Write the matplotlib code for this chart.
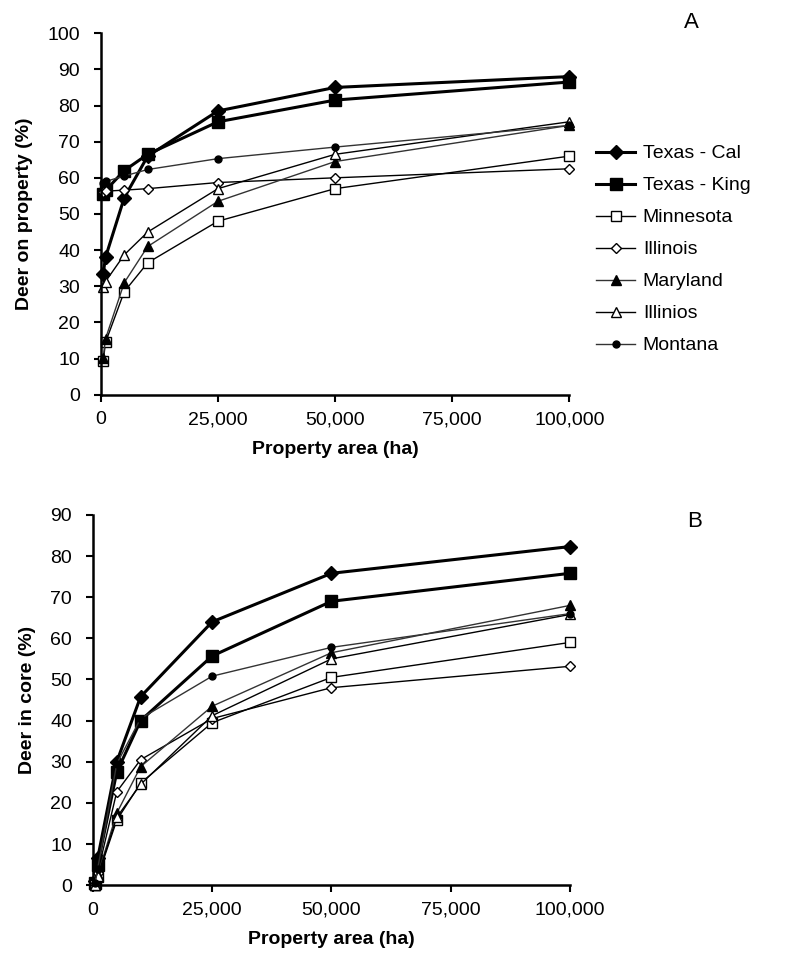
import matplotlib
matplotlib.use('Agg')
import matplotlib.pyplot as plt
from matplotlib.ticker import FuncFormatter

plt.rcParams['font.family'] = ['Liberation Sans', 'DejaVu Sans']

# Property area (ha)
area = [500, 1000, 5000, 10000, 25000, 50000, 100000]

# Panel A: deer on property (%)
a_tx_cal = [33.5, 38, 54.5, 66, 78.5, 85, 88]
a_tx_king = [55.5, 56.5, 62, 66.5, 75.5, 81.5, 86.5]
a_minnesota = [9.2, 14.5, 28.5, 36.5, 48, 57, 66]
a_illinois = [56, 56.3, 56.6, 57, 58.7, 60, 62.5]
a_maryland = [10.2, 15.5, 31, 41, 53.5, 64.5, 74.5]
a_illinios = [29.8, 31.3, 38.7, 45, 57, 66.5, 75.5]
a_montana = [58.5, 59, 60.5, 62.3, 65.3, 68.5, 74.5]

# Panel B: deer in core (%)
b_tx_cal = [1, 6.5, 30, 45.8, 64, 75.8, 82.3]
b_tx_king = [0.5, 5, 27.5, 40, 55.7, 69, 75.8]
b_minnesota = [0, 2, 15.8, 24.8, 39.5, 50.5, 59]
b_illinois = [0.3, 3, 22.7, 30.5, 40.5, 48, 53.2]
b_maryland = [0, 2.5, 17.5, 28.8, 43.5, 56.5, 68]
b_illinios = [0, 2.2, 16.5, 24.5, 41.2, 55, 65.8]
b_montana = [0.5, 4, 29.5, 40.5, 50.8, 57.8, 66]

labels = ['Texas - Cal', 'Texas - King', 'Minnesota', 'Illinois',
          'Maryland', 'Illinios', 'Montana']
styles = [
    dict(marker='D', ms=7, mfc='black', mec='black', lw=2.2, color='black'),
    dict(marker='s', ms=8.5, mfc='black', mec='black', lw=2.2, color='black'),
    dict(marker='s', ms=6.5, mfc='white', mec='black', lw=1, color='black'),
    dict(marker='D', ms=5.5, mfc='white', mec='black', lw=1, color='black'),
    dict(marker='^', ms=7, mfc='black', mec='black', lw=1, color='#333333'),
    dict(marker='^', ms=7.5, mfc='white', mec='black', lw=1, color='black'),
    dict(marker='o', ms=5, mfc='black', mec='black', lw=1, color='#333333'),
]

fig = plt.figure(figsize=(7.94, 9.77), dpi=100)
axA = fig.add_axes([0.127, 0.596, 0.590, 0.370])
axB = fig.add_axes([0.117, 0.094, 0.601, 0.379])

fmt = FuncFormatter(lambda v, p: f'{int(v):,}')

panels = [
    (axA, [a_tx_cal, a_tx_king, a_minnesota, a_illinois, a_maryland, a_illinios, a_montana],
     100, 'Deer on property (%)', 'A', 1.0),
    (axB, [b_tx_cal, b_tx_king, b_minnesota, b_illinois, b_maryland, b_illinios, b_montana],
     90, 'Deer in core (%)', 'B', 0.955),
]

for ax, series, ymax, ylab, tag, ty in panels:
    for vals, lab, st in zip(series, labels, styles):
        ax.plot(area, vals, label=lab, clip_on=False, **st)
    ax.set_xlim(0, 100000)
    ax.set_ylim(0, ymax)
    ax.set_xticks([0, 25000, 50000, 75000, 100000])
    ax.set_yticks(range(0, ymax + 1, 10))
    ax.xaxis.set_major_formatter(fmt)
    ax.spines['top'].set_visible(False)
    ax.spines['right'].set_visible(False)
    ax.spines['left'].set_linewidth(1.8)
    ax.spines['bottom'].set_linewidth(1.8)
    ax.tick_params(direction='out', length=5, width=1.5, labelsize=14)
    ax.tick_params(axis='y', pad=10)
    ax.tick_params(axis='x', pad=7)
    ax.set_xlabel('Property area (ha)', fontsize=14, fontweight='bold', labelpad=9)
    ax.set_ylabel(ylab, fontsize=14, fontweight='bold', labelpad=10)
    ax.text(1.26, ty, tag, transform=ax.transAxes, fontsize=16,
            ha='center', va='bottom')

axA.legend(loc='upper left', bbox_to_anchor=(1.02, 0.74), frameon=False,
           fontsize=14, handlelength=2.0, labelspacing=0.74, handletextpad=0.4)

fig.savefig('out.png', dpi=100)
